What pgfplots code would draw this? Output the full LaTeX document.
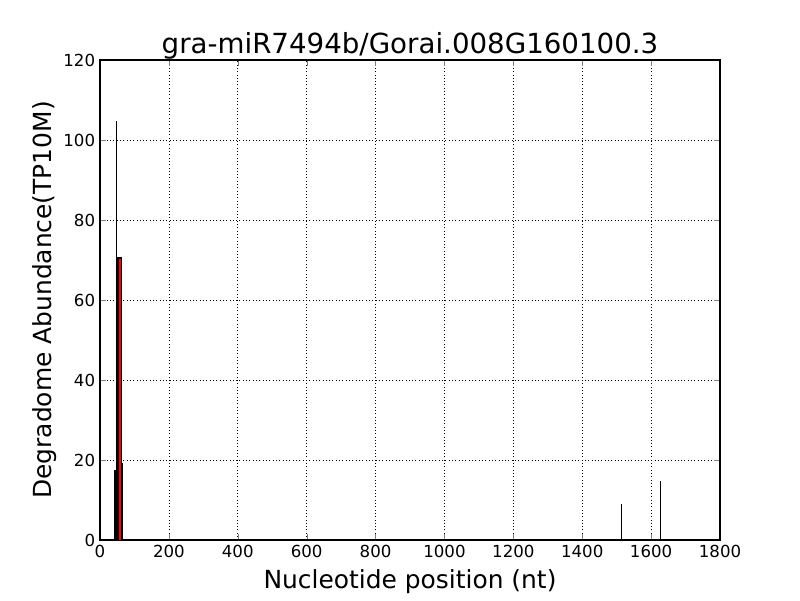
\documentclass[border=0pt]{standalone}
\usepackage{pgfplots}
\pgfplotsset{compat=1.18}
\usepackage{fontspec}
\setmainfont{DejaVu Sans}
\begin{document}
\begin{tikzpicture}[x=1bp,y=1bp]
\path[use as bounding box] (0,0) rectangle (576,432);
\begin{axis}[
  at={(72bp,43.2bp)}, anchor=south west,
  scale only axis, width=446.4bp, height=345.6bp,
  xmin=0, xmax=1800, ymin=0, ymax=120,
  xtick={0,200,...,1800}, ytick={0,20,...,120},
  tick align=inside, tick pos=both,
  major tick length=4bp,
  grid=major, grid style={black, dotted, line width=0.5bp},
  axis line style={line width=0.8bp},
  /pgf/number format/assume math mode=true,
  /pgf/number format/1000 sep={},
  tick label style={font=\fontsize{12}{14}\selectfont},
  title={gra-miR7494b/Gorai.008G160100.3},
  title style={font=\fontsize{20}{24}\selectfont, yshift=-9bp},
  xlabel={Nucleotide position (nt)},
  ylabel={Degradome Abundance(TP10M)},
  label style={font=\fontsize{18}{21}\selectfont},
  xlabel style={yshift=-2bp},
  ylabel style={yshift=-2bp},
]
\addplot[ycomb, black, line width=0.8bp, mark=none] coordinates {
(43,17.5) (44,17.5) (45,17.5) (46,17.5) (47,104.8)
(49,70.8) (50,70.8) (51,70.8) (52,70.8) (53,70.8) (54,70.8) (55,70.8) (56,70.8)
(58,70.8) (59,70.8) (60,70.8) (61,70.8) (62,70.8)
(63,40) (64,19.2) (65,19.2)
(1514,9) (1627,14.75) (1798,15.8)
};
\addplot[ycomb, red, line width=1.4bp, mark=none] coordinates {(57,70.2)};
\end{axis}
\end{tikzpicture}
\end{document}
